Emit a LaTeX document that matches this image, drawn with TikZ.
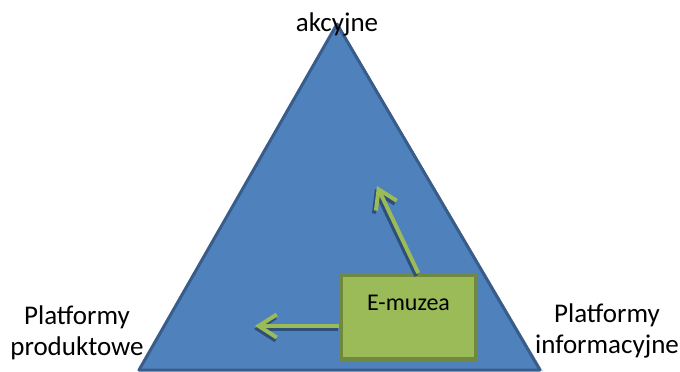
\documentclass[tikz,border=0pt]{standalone}
\usepackage{fontspec}
\setmainfont{Carlito}
\usetikzlibrary{positioning}
\usetikzlibrary{calc}
\usetikzlibrary{arrows.meta}
\definecolor{triblue}{HTML}{4F81BD}
\definecolor{triedge}{HTML}{385D8A}
\definecolor{shade}{HTML}{2E4F78}
\definecolor{leaf}{HTML}{9BBB59}
\definecolor{leafedge}{HTML}{71893F}

\tikzset{
    lbl/.style={align=center, font=\fontsize{27}{31}\selectfont},
    greenarrow/.style={draw=leaf, line width=4pt, -{Straight Barb[length=18pt 0, width=23pt 0]}},
    arrowshade/.style={draw=shade, line width=4pt, -{Straight Barb[length=18pt 0, width=23pt 0]}}
}

\begin{document}
\begin{tikzpicture}[x=1pt, y=-1pt]
    \useasboundingbox (0,0) rectangle (680,372);

    % triangle with shadow
    \fill[shade] (340,27) -- (141,372) -- (543,372) -- cycle;
    \filldraw[fill=triblue, draw=triedge, line width=3pt, line join=round]
        (337,24) -- (139,370) -- (540,370) -- cycle;

    % corner labels
    \node[lbl] (top) at (337,24) {akcyjne};
    \node[lbl] (left) at (77,333) {Platformy\\produktowe};
    \node[lbl] (right) at (607,331) {Platformy\\informacyjne};

    % e-muzea box
    \node[draw=leafedge, fill=leaf, line width=4pt, minimum width=135pt, minimum height=84pt,
        inner sep=0pt] (emuzea) at (408.5,317) {};
    \node[lbl, font=\fontsize{24}{28}\selectfont] (emtext) at ($(emuzea.north)+(0,30)$) {E-muzea};

    % arrows
    \coordinate (upstart) at ($(emuzea.north west)!0.57!(emuzea.north east)$);
    \coordinate (upend) at (377,186);
    \coordinate (leftstart) at (emuzea.west |- 0,326);
    \coordinate (leftend) at (255,326);
    \draw[arrowshade] ($(upstart)+(-2,3)$) -- ($(upend)+(-2,3)$);
    \draw[arrowshade] ($(leftstart)+(-1,3)$) -- ($(leftend)+(-1,3)$);
    \draw[greenarrow] (upstart) -- (upend);
    \draw[greenarrow] (leftstart) -- (leftend);
\end{tikzpicture}
\end{document}
